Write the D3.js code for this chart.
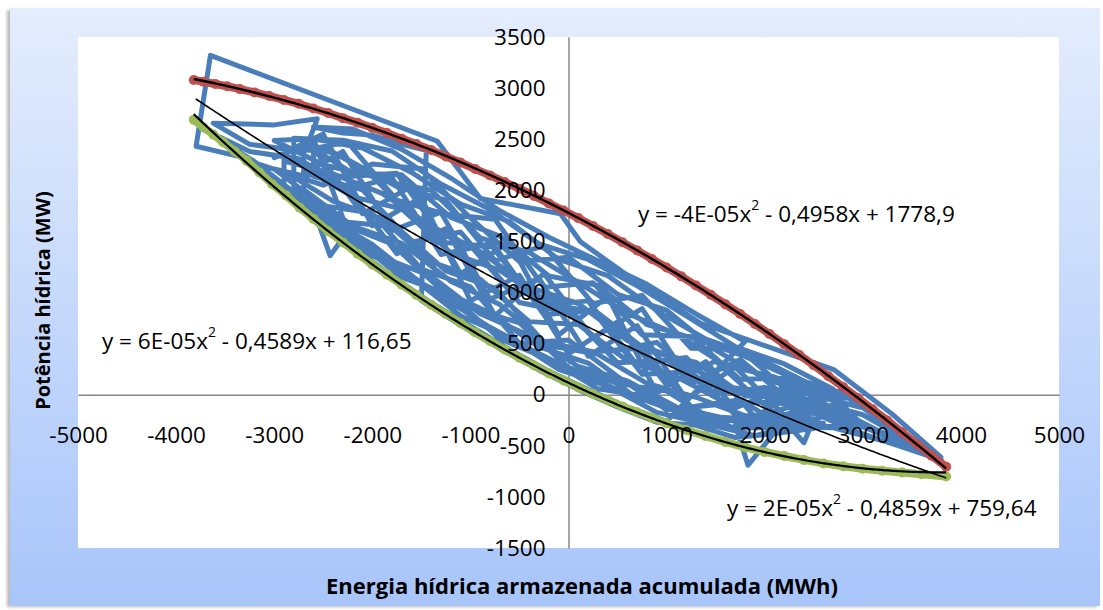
<!DOCTYPE html>
<html>
<head>
<meta charset="utf-8">
<script src="https://cdn.jsdelivr.net/npm/d3@7"></script>
<style>
  html, body { margin: 0; padding: 0; background: #ffffff; }
  svg { display: block; }
  text { font-family: "Open Sans", "Liberation Sans", sans-serif; fill: #000; }
</style>
</head>
<body>
<svg id="chart" width="1103" height="610"></svg>
<script>
// Axis ticks
const xTicks = [-5000, -4000, -3000, -2000, -1000, 0, 1000, 2000, 3000, 4000, 5000];
const yTicks = [-1500, -1000, -500, 0, 500, 1000, 1500, 2000, 2500, 3000, 3500];

// Hourly trajectory: accumulated stored energy (MWh) vs hydro power (MW)
const blueSeries = [
  [-2880,1980],[-3276,2313],[-3796,2431],[-3650,3320],[-1337,2480],[-898,1919],[-82,1771],[122,1496],
  [700,1100],[1347,699],[2704,246],[3300,-190],[3796,-610],[3400,-380],[3000,-128],
  [2750,34],[2250,24],[1750,442],[1250,455],[750,972],[250,892],[-250,1456],[-750,1312],[-1250,1903],[-1750,2036],[-2250,2300],[-2750,2500],
  [-3000,2488],[-2500,2250],[-2000,2137],[-1500,1650],[-1000,1460],[-500,902],[0,805],[500,312],[1000,340],[1500,8],[2000,72],[2500,-65],[3000,-196],
  [3500,-470],
  [2750,-242],[2250,-124],[1750,-244],[1250,225],[750,201],[250,825],[-250,783],[-750,1447],[-1250,1488],[-1750,2167],[-2250,2134],[-2750,2152],
  [-3000,2208],[-2500,1850],[-2000,1774],[-1500,1230],[-1000,1055],[-500,503],[0,535],[500,178],[1000,-148],[1500,-99],[2000,-276],[2500,-179],
  [2900,-350],[3300,-480],[3800,-640],[3000,-300],
  [2750,-58],[2250,172],[1750,148],[1250,570],[750,586],[250,1095],[-250,1052],[-750,1716],[-1250,1765],[-1750,1904],[-2250,2469],[-2750,2386],[-3250,2450],
  [-3622,2657],[-3000,2640],[-2561,2700],[-2663,2441],
  [-3000,2320],[-2500,2550],[-2000,1653],[-1500,1930],[-1000,920],[-500,1168],[0,400],[500,714],[1000,96],[1500,329],[2000,-102],[2500,106],[3000,-298],
  [3250,-400],[2750,-150],[2250,-346],[1750,-48],[1250,-120],[750,458],[250,420],[-250,514],[-750,1043],[-1250,1211],[-1750,1641],[-2250,1688],[-2750,1918],
  [-3100,2150],[-3500,2450],[-3300,2300],
  [-2500,2050],[-2000,2258],[-1500,2210],[-1000,1730],[-500,1301],[0,1345],[500,982],[1000,828],[1500,436],[2000,159],[2500,-8],[3000,-128],[3500,-470],
  [2250,-50],[1750,344],[1250,110],[750,843],[250,555],[-250,1187],[-750,774],[-1250,1626],[-1750,1378],[-2250,2023],[-2750,2308],[-3250,2380],
  [-3550,2520],
  [-3000,2096],[-2500,1750],[-2000,1470],[-1500,1090],[-1000,852],[-500,702],[0,265],[500,111],[1000,35],[1500,-260],[2000,-189],[2500,-236],
  [2400,-470],[2200,-250],[1830,-690],[1700,-300],
  [2900,-312],[2400,71],[1900,-217],[1400,323],[900,14],[400,963],[-100,584],[-600,1493],[-1100,1183],[-1600,2039],[-2100,1770],[-2600,2411],
  [-2600,2137],[-2100,2004],[-1600,1493],[-1100,1592],[-600,1026],[-100,920],[400,423],[900,512],[1400,102],[1900,10],[2400,-118],[2900,-175],
  [2900,-351],[2400,-276],[1900,-400],[1400,-284],[900,-173],[400,85],[-100,247],[-600,558],[-1100,773],[-1600,1151],[-2100,1418],[-2600,1816],
  [-2430,1360],[-2250,1600],
  [-2600,2503],[-2100,2413],[-1600,2175],[-1100,1865],[-600,1693],[-100,1323],[400,1165],[900,823],[1400,544],[1900,374],[2400,134],[2900,-39],
  [2700,-18],[2200,-199],[1700,270],[1200,-44],[700,677],[200,378],[-300,1139],[-800,935],[-1300,1786],[-1800,1605],[-2300,2380],[-2800,2102],
  [-2800,2324],[-2300,1995],[-1800,2125],[-1300,1372],[-800,1475],[-300,870],[200,918],[700,288],[1200,364],[1700,-130],[2200,70],[2700,-182],
  [2700,53],[2200,301],[1700,470],[1200,772],[700,1065],[200,1323],[-300,1476],[-800,1812],[-1300,2062],[-1800,2385],[-2300,2490],[-2800,2509],
  [-2800,2028],[-2300,1665],[-1800,1475],[-1300,1027],[-800,800],[-300,467],[200,310],[700,-35],[1200,-160],[1700,-330],[2200,-315],[2700,-323],
  [3200,-450],[3700,-600],
  [2300,-24],[1800,-13],[1300,316],[800,430],[300,800],[-200,890],[-700,1217],[-1200,1388],[-1700,1817],[-2200,1938],[-2700,2215],
  [-2700,1842],[-2200,1535],[-1700,1147],[-1200,973],[-700,547],[-200,346],[300,58],[800,-18],[1300,-251],[1800,-256],[2300,-348],
  [2600,-9],[2100,173],[1600,288],[1100,593],[600,794],[100,1098],[-400,1390],[-900,1535],[-1400,2000],[-1900,2095],[-2400,2374],[-2900,2415],
  [-2900,2188],[-2400,1895],[-1900,1720],[-1400,1300],[-900,1130],[-400,715],[100,687],[600,332],[1100,176],[1600,-76],[2100,-76],[2600,-144],
  [2300,156],[1800,375],[1300,543],[800,686],[300,1070],[-200,1162],[-700,1552],[-1200,1735],[-1700,2152],[-2200,2168],[-2700,2464],
  [-2700,2008],[-2200,1650],[-1700,1482],[-1200,1111],[-700,882],[-200,482],[300,395],[800,110],[1300,-25],[1800,-207],[2300,-204],
  [2600,-90],[2100,7],[1600,80],[1100,355],[600,530],[100,892],[-400,1053],[-900,1400],[-1400,1650],[-1900,1970],[-2400,2161],[-2900,2285],
  [-2900,2025],[-2400,1735],[-1900,1345],[-1400,1160],[-900,793],[-400,580],[100,276],[600,134],[1100,-121],[1600,-232],[2100,-284],[2600,-279],
  [1200,-200],[800,-60],[400,90],[0,260],[-400,450],[-800,660],[-1200,900],[-1600,1130],[-2000,1420],[-2400,1700],[-2800,1980],[-3200,2280],
  [-3400,2400],[-3000,2070],[-2600,1760],[-2200,1450],[-1800,1160],[-1400,900],[-1000,670],[-600,440],[-200,230],[200,50],[600,-120],[1000,-260],
  [1800,520],[1300,790],[800,1080],[300,1310],[-200,1540],[-700,1800],[-1200,2120],[-1700,2400],[-2200,2600],[-2600,2620],
  [-2300,2560],[-2000,2540],[-1700,2450],[-1450,2390],[-1500,920],[-1100,680],[-700,450],[-300,240],[100,50],[500,-120],[900,-270],
  [1300,-300],[1700,-420],[2100,-380],[2500,-330]
];

// Upper envelope points
const redSeries = [
  [-3820,3080],[-3720,3062],[-3600,3040],[-3480,3018],[-3350,2990],[-3200,2958],[-3050,2922],[-2900,2884],
  [-2750,2846],[-2600,2800],[-2450,2756],[-2300,2706],[-2150,2662],[-2000,2612],[-1850,2560],[-1700,2505],
  [-1550,2452],[-1400,2395],[-1250,2330],[-1100,2272],[-950,2208],[-800,2146],[-650,2080],[-500,2016],
  [-350,1945],[-200,1872],[-50,1802],[100,1728],[250,1650],[400,1572],[550,1492],[700,1412],[850,1328],
  [1000,1244],[1150,1158],[1300,1068],[1450,978],[1600,884],[1750,790],[1900,692],[2050,594],[2200,494],
  [2350,392],[2500,288],[2650,180],[2800,75],[2950,-32],[3100,-142],[3250,-252],[3400,-368],[3550,-482],
  [3700,-598],[3850,-705]
];

// Lower envelope points
const greenSeries = [
  [-3820,2690],[-3720,2615],[-3620,2545],[-3520,2470],[-3400,2380],[-3280,2290],[-3150,2175],[-3020,2060],
  [-2880,1950],[-2740,1830],[-2600,1720],[-2450,1600],[-2300,1490],[-2150,1380],[-2000,1275],[-1850,1175],
  [-1700,1075],[-1550,975],[-1400,880],[-1250,790],[-1100,700],[-950,608],[-800,525],[-650,442],[-500,362],
  [-350,285],[-200,210],[-50,140],[100,72],[250,8],[400,-55],[550,-115],[700,-172],[850,-225],[1000,-280],
  [1200,-345],[1400,-405],[1600,-462],[1800,-515],[2000,-560],[2200,-600],[2400,-638],[2600,-672],
  [2800,-700],[3000,-725],[3200,-745],[3400,-762],[3600,-778],[3850,-800]
];

// Polynomial trendlines: [a, b, c] for y = a x^2 + b x + c, with x extent
const redTrend = [-4e-5, -0.4958, 1778.9];
const greenTrend = [6e-5, -0.4589, 116.65];
const blueTrend = [2e-5, -0.4859, 759.64];
const redTrendRange = [-3820, 3850];
const greenTrendRange = [-3820, 3850];
const blueTrendRange = [-3800, 3850];

const svg = d3.select("#chart");
const plot = { left: 78, right: 1059, top: 37, bottom: 548 };

const defs = svg.append("defs");
const grad = defs.append("linearGradient").attr("id", "bg").attr("x1", 0).attr("y1", 0).attr("x2", 0).attr("y2", 1);
grad.append("stop").attr("offset", "0%").attr("stop-color", "#e4edfd");
grad.append("stop").attr("offset", "100%").attr("stop-color", "#a8c5fa");
const blur = defs.append("filter").attr("id", "shadow").attr("x", "-5%").attr("y", "-5%").attr("width", "110%").attr("height", "110%");
blur.append("feGaussianBlur").attr("stdDeviation", 1.5);

// Chart frame with soft shadow
svg.append("rect").attr("x", 7).attr("y", 10).attr("width", 1090).attr("height", 597)
  .attr("fill", "#b9b9b9").attr("filter", "url(#shadow)");
svg.append("rect").attr("x", 10).attr("y", 8).attr("width", 1090).attr("height", 598)
  .attr("fill", "url(#bg)");

// Plot area
svg.append("rect").attr("x", plot.left).attr("y", plot.top)
  .attr("width", plot.right - plot.left).attr("height", plot.bottom - plot.top)
  .attr("fill", "#ffffff");

const x = d3.scaleLinear().domain([-5000, 5000]).range([plot.left, plot.right]);
const y = d3.scaleLinear().domain([-1500, 3500]).range([plot.bottom, plot.top]);

const fmt = d => String(d);
const xAxisGen = d3.axisBottom(x).tickValues(xTicks).tickFormat(fmt).tickSizeInner(0).tickSizeOuter(0).tickPadding(32);
const yAxisGen = d3.axisLeft(y).tickValues(yTicks).tickFormat(fmt).tickSizeInner(0).tickSizeOuter(0).tickPadding(23);

// Axis lines crossing at the origin (below the series)
function axisLines(gen, transform) {
  const g = svg.append("g").attr("transform", transform).call(gen);
  g.selectAll(".tick").remove();
  g.select(".domain").attr("stroke", "#868686").attr("stroke-width", 1.5);
}
axisLines(xAxisGen, `translate(0,${y(0)})`);
axisLines(yAxisGen, `translate(${x(0)},0)`);

const line = d3.line().x(d => x(d[0])).y(d => y(d[1]));
const clip = defs.append("clipPath").attr("id", "plotClip");
clip.append("rect").attr("x", plot.left).attr("y", plot.top)
  .attr("width", plot.right - plot.left).attr("height", plot.bottom - plot.top);
const marks = svg.append("g").attr("clip-path", "url(#plotClip)");

// Trajectory
marks.append("path").datum(blueSeries).attr("d", line)
  .attr("fill", "none").attr("stroke", "#4a7ebb").attr("stroke-width", 5)
  .attr("stroke-linejoin", "round").attr("stroke-linecap", "round");

// Envelopes with markers
function envelope(data, color) {
  marks.append("path").datum(data).attr("d", line)
    .attr("fill", "none").attr("stroke", color).attr("stroke-width", 8)
    .attr("stroke-linejoin", "round").attr("stroke-linecap", "round");
  marks.append("g").selectAll("circle").data(data).join("circle")
    .attr("cx", d => x(d[0])).attr("cy", d => y(d[1])).attr("r", 5).attr("fill", color);
}
envelope(redSeries, "#c0504d");
envelope(greenSeries, "#9bbb59");

// Trendlines
function trend(coef, range, width) {
  const [a, b, c] = coef;
  const pts = d3.range(range[0], range[1] + 1, 25).map(v => [v, a * v * v + b * v + c]);
  pts.push([range[1], a * range[1] * range[1] + b * range[1] + c]);
  marks.append("path").datum(pts).attr("d", line)
    .attr("fill", "none").attr("stroke", "#000").attr("stroke-width", width);
}
trend(redTrend, redTrendRange, 2.4);
trend(greenTrend, greenTrendRange, 2.2);
trend(blueTrend, blueTrendRange, 1.6);

// Tick labels on top of the series
function axisLabels(gen, transform) {
  const g = svg.append("g").attr("transform", transform).call(gen);
  g.select(".domain").remove();
  g.selectAll("text").attr("font-size", 22.5).attr("font-family", '"Open Sans", sans-serif').attr("fill", "#000");
}
axisLabels(xAxisGen, `translate(0,${y(0)})`);
axisLabels(yAxisGen, `translate(${x(0)},0)`);

// Trendline equations
function equation(xPos, yPos, a, rest) {
  const t = svg.append("text").attr("x", xPos).attr("y", yPos)
    .attr("font-size", 22.5).attr("dominant-baseline", "central");
  t.append("tspan").text(a);
  t.append("tspan").text("2").attr("font-size", 14).attr("dy", -9);
  t.append("tspan").text(rest).attr("dy", 9);
}
equation(638, 213, "y = -4E-05x", " - 0,4958x + 1778,9");
equation(102, 340, "y = 6E-05x", " - 0,4589x + 116,65");
equation(727, 507, "y = 2E-05x", " - 0,4859x + 759,64");

// Axis titles
svg.append("text").attr("x", 582).attr("y", 585).attr("text-anchor", "middle")
  .attr("dominant-baseline", "central").attr("font-weight", "bold").attr("font-size", 22)
  .text("Energia hídrica armazenada acumulada (MWh)");
svg.append("text").attr("transform", `translate(42,${(plot.top + plot.bottom) / 2 + 8}) rotate(-90)`)
  .attr("text-anchor", "middle").attr("dominant-baseline", "central")
  .attr("font-weight", "bold").attr("font-size", 20)
  .text("Potência hídrica (MW)");
</script>
</body>
</html>
